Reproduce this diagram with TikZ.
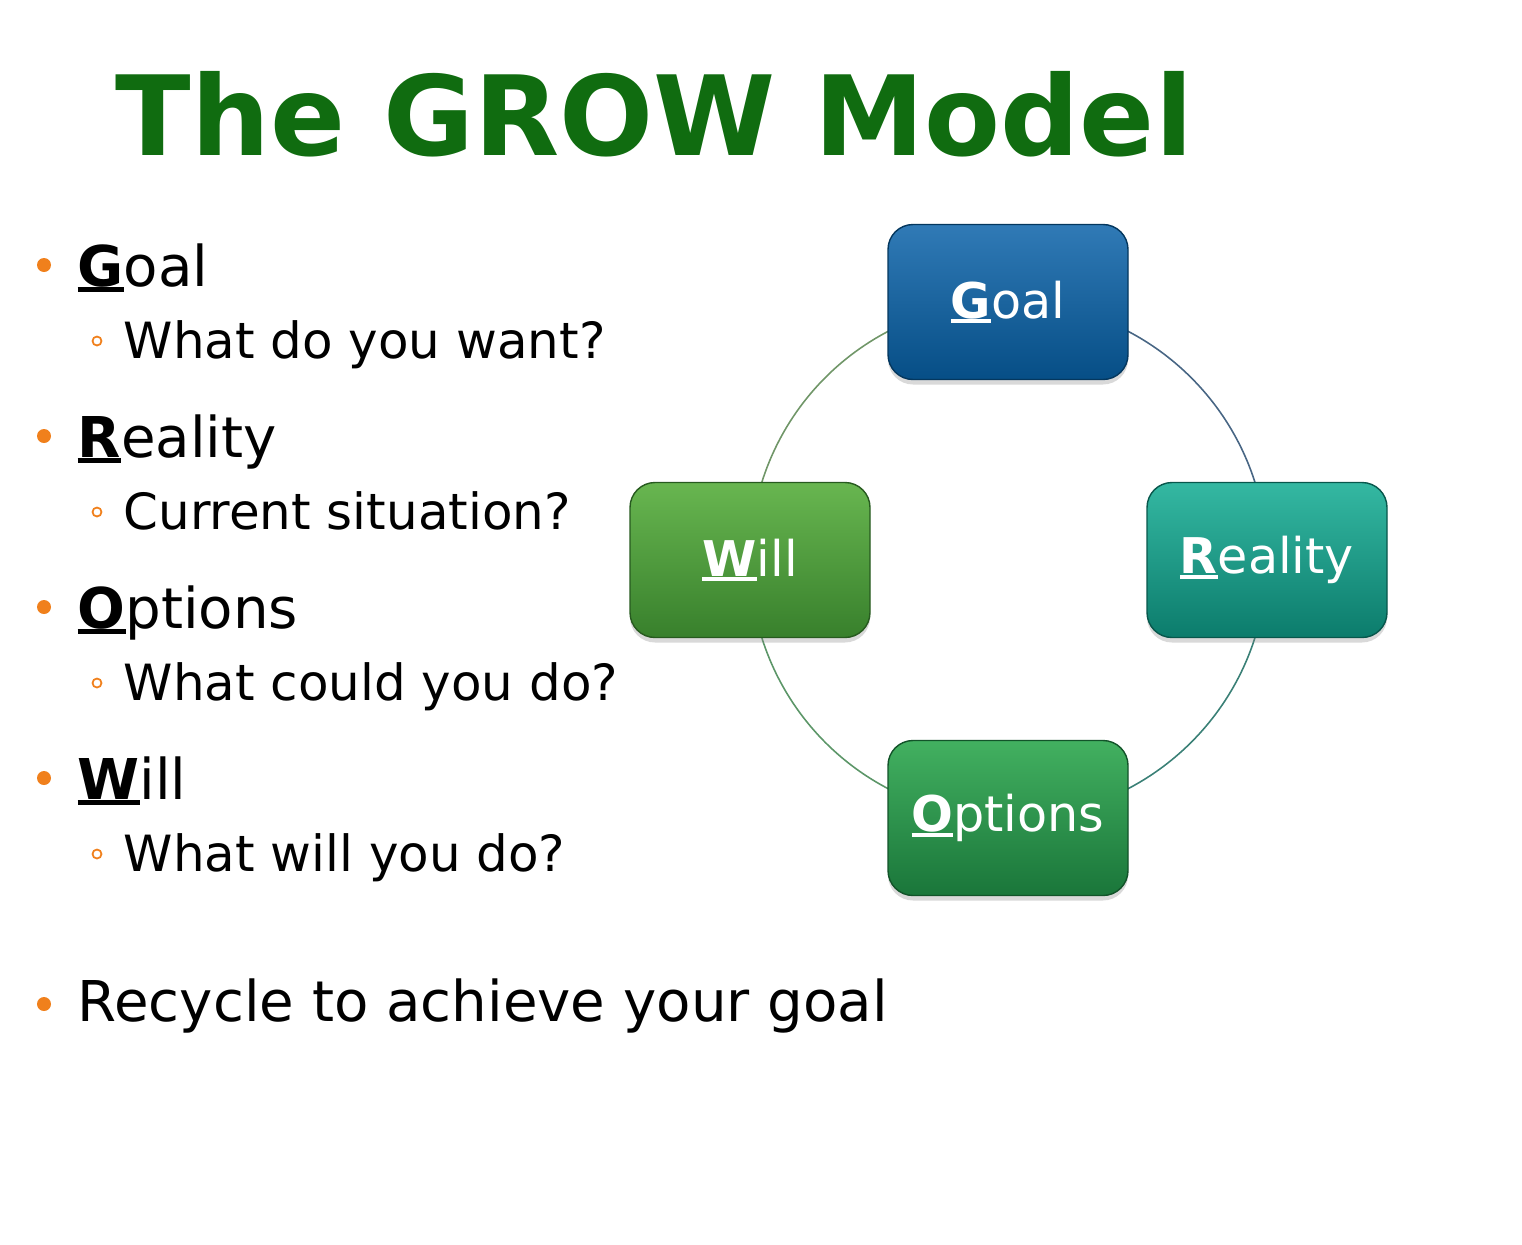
\documentclass[tikz,border=0pt]{standalone}
\usepackage{fontspec}
\setmainfont{DejaVu Sans}
\usepackage{xcolor}
\usepackage{tikz}
\usetikzlibrary{shadows,backgrounds}

\definecolor{titlegreen}{RGB}{16,108,16}
\definecolor{dotorange}{RGB}{240,128,28}
\definecolor{goaltop}{RGB}{48,122,182}
\definecolor{goalbot}{RGB}{6,78,134}
\definecolor{realtop}{RGB}{52,184,162}
\definecolor{realbot}{RGB}{12,124,108}
\definecolor{opttop}{RGB}{66,176,96}
\definecolor{optbot}{RGB}{26,118,58}
\definecolor{willtop}{RGB}{104,182,80}
\definecolor{willbot}{RGB}{56,128,44}

\newsavebox{\keybox}
\newcommand{\keyletter}[1]{\sbox{\keybox}{\bfseries #1}\rlap{\rule[-0.1em]{\wd\keybox}{0.075em}}\usebox{\keybox}}

\tikzset{
    item/.style={anchor=base west, inner sep=0pt, font=\fontsize{16}{19}\selectfont},
    subitem/.style={anchor=base west, inner sep=0pt, font=\fontsize{14.2}{17}\selectfont},
    bullet/.style={circle, fill=dotorange, inner sep=0pt, minimum size=0.14cm},
    subbullet/.style={circle, draw=dotorange, line width=0.5pt, inner sep=0pt, minimum size=0.09cm},
    stage/.style={rounded corners=0.25cm, minimum width=2.4cm, minimum height=1.55cm,
        inner sep=0pt, text=white, font=\fontsize{14}{16}\selectfont,
        drop shadow={shadow xshift=0pt, shadow yshift=-0.05cm, opacity=0.3}},
    ring/.style={line width=0.45pt}
}

\begin{document}
\begin{tikzpicture}
    \useasboundingbox (0,0) rectangle (15.22,-12.44);

    % title
    \node[anchor=base west, inner sep=0pt, text=titlegreen,
          font=\fontsize{31.5}{36}\selectfont\bfseries] (title) at (1.15,-1.55) {The GROW Model};

    % bullet list
    \node[bullet] (b1) at (0.44,-2.65) {};
    \node[item] (goalitem) at (0.77,-2.86) {\keyletter{G}oal};
    \node[subbullet] (s1) at (0.97,-3.41) {};
    \node[subitem] (goalq) at (1.23,-3.58) {What do you want?};

    \node[bullet] (b2) at (0.44,-4.36) {};
    \node[item] (realitem) at (0.77,-4.57) {\keyletter{R}eality};
    \node[subbullet] (s2) at (0.97,-5.12) {};
    \node[subitem] (realq) at (1.23,-5.29) {Current situation?};

    \node[bullet] (b3) at (0.44,-6.07) {};
    \node[item] (optitem) at (0.77,-6.28) {\keyletter{O}ptions};
    \node[subbullet] (s3) at (0.97,-6.83) {};
    \node[subitem] (optq) at (1.23,-7.00) {What could you do?};

    \node[bullet] (b4) at (0.44,-7.78) {};
    \node[item] (willitem) at (0.77,-7.99) {\keyletter{W}ill};
    \node[subbullet] (s4) at (0.97,-8.54) {};
    \node[subitem] (willq) at (1.23,-8.71) {What will you do?};

    \node[bullet] (b5) at (0.44,-10.04) {};
    \node[item] (recycle) at (0.77,-10.21) {Recycle to achieve your goal};

    % cycle
    \node[stage, top color=goaltop, bottom color=goalbot, draw=goalbot!70!black] (goal) at (10.08,-3.02) {\keyletter{G}oal};
    \node[stage, top color=realtop, bottom color=realbot, draw=realbot!70!black] (reality) at (12.67,-5.60) {\keyletter{R}eality};
    \node[stage, top color=opttop, bottom color=optbot, draw=optbot!70!black] (options) at (10.08,-8.18) {\keyletter{O}ptions};
    \node[stage, top color=willtop, bottom color=willbot, draw=willbot!70!black] (will) at (7.50,-5.60) {\keyletter{W}ill};

    \begin{scope}[on background layer]
        \draw[ring, color={rgb,255:red,72;green,102;blue,132}] (goal.center) to[bend left=45] (reality.center);
        \draw[ring, color={rgb,255:red,58;green,128;blue,118}] (reality.center) to[bend left=45] (options.center);
        \draw[ring, color={rgb,255:red,92;green,150;blue,104}] (options.center) to[bend left=45] (will.center);
        \draw[ring, color={rgb,255:red,112;green,150;blue,104}] (will.center) to[bend left=45] (goal.center);
    \end{scope}
\end{tikzpicture}
\end{document}
